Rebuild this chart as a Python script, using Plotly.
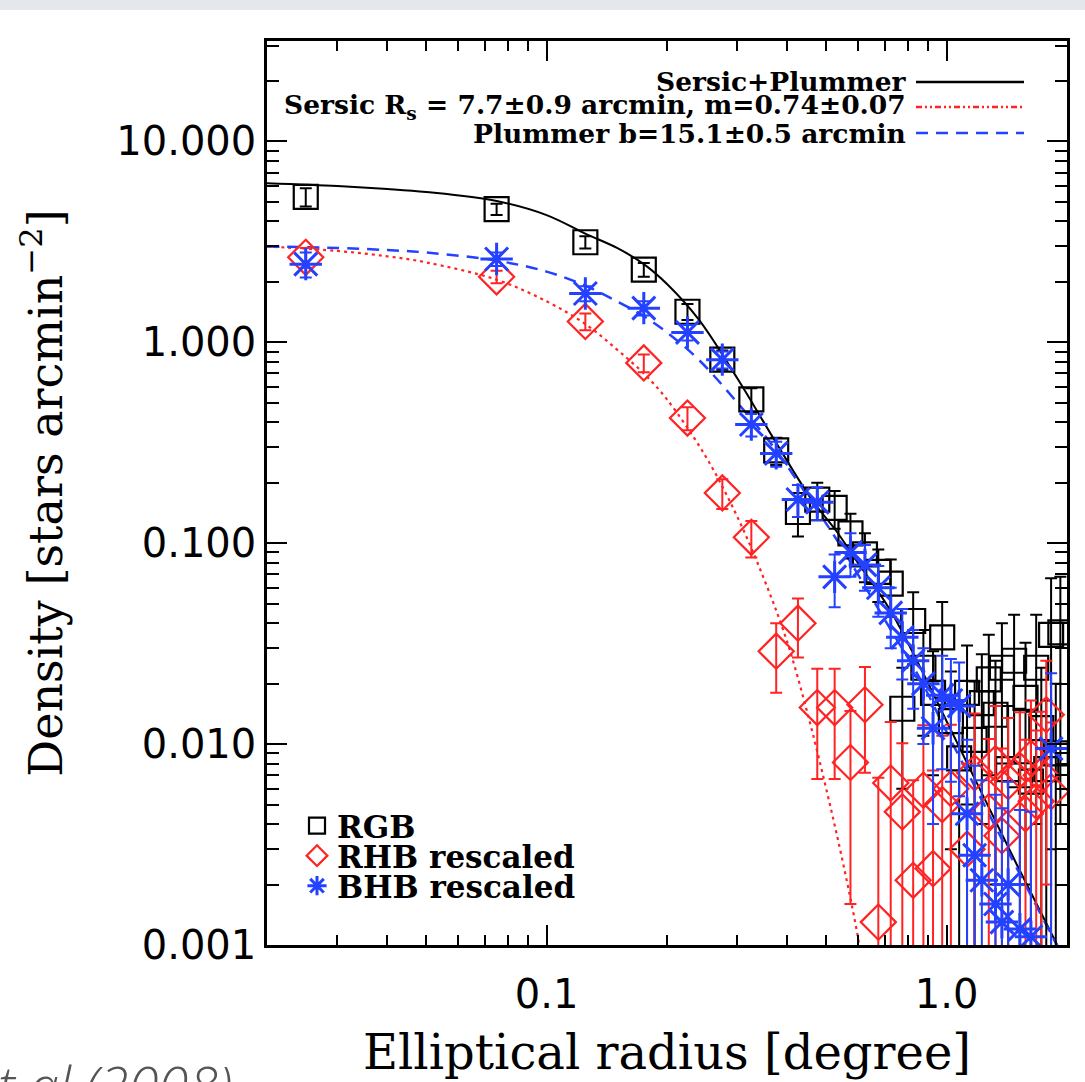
import plotly.graph_objects as go

# ---------------- data ----------------
radius = [0.025, 0.075, 0.125, 0.175, 0.225, 0.275, 0.325, 0.375, 0.425, 0.475,
          0.525, 0.575, 0.625, 0.675, 0.725, 0.775, 0.825, 0.875, 0.925, 0.975,
          1.025, 1.075, 1.125, 1.175, 1.225, 1.275, 1.325, 1.375, 1.425, 1.475,
          1.525, 1.575, 1.625, 1.675, 1.725, 1.775, 1.825, 1.875, 1.925]

rgb_density = [5.3, 4.6, 3.15, 2.3, 1.42, 0.82, 0.52, 0.29, 0.143, 0.165,
               0.150, 0.112, 0.088, 0.072, 0.063, 0.015, 0.041, 0.024, 0.018, 0.034,
               0.013, 0.0085, 0.018, 0.0105, 0.016, 0.021, 0.014, 0.024, 0.0075, 0.026,
               0.007, 0.017, 0.0065, 0.024, 0.012, 0.0075, 0.035, 0.009, 0.036]
rgb_err = [0.55, 0.3, 0.22, 0.18, 0.13, 0.09, 0.07, 0.045, 0.035, 0.035,
           0.032, 0.028, 0.024, 0.021, 0.02, 0.009, 0.016, 0.013, 0.011, 0.017,
           0.01, 0.008, 0.013, 0.01, 0.012, 0.014, 0.012, 0.016, 0.008, 0.018,
           0.008, 0.015, 0.008, 0.02, 0.012, 0.009, 0.032, 0.011, 0.032]

rhb_density = [2.65, 2.12, 1.27, 0.79, 0.42, 0.178, 0.107, 0.029, 0.040, 0.0152,
               0.0152, 0.0081, 0.0157, 0.0013, 0.0064, 0.0046, 0.0021, 0.0059, 0.0024, 0.0050,
               0.0060, None, 0.0030, 0.0072, None, 0.0046, 0.0080, 0.0035, 0.0065, None,
               0.0074, 0.0045, 0.0085, 0.0052, 0.0070, 0.0140, 0.0058, None, None]
rhb_err = [0.3, 0.15, 0.12, 0.08, 0.055, 0.03, 0.022, 0.011, 0.013, 0.0085,
           0.0085, 0.0065, 0.0085, 0.0055, 0.0065, 0.0055, 0.0045, 0.0065, 0.005, 0.006,
           0.0065, None, 0.005, 0.007, None, 0.006, 0.0075, 0.006, 0.007, None,
           0.007, 0.006, 0.008, 0.0065, 0.0075, 0.012, 0.007, None, None]

bhb_density = [2.45, 2.6, 1.75, 1.48, 1.12, 0.82, 0.39, 0.28, 0.165, 0.160,
               0.068, 0.090, 0.078, 0.060, 0.045, 0.034, 0.026, 0.020, 0.012, 0.0175,
               0.0165, 0.0155, 0.0045, 0.0028, 0.0021, None, 0.0016, 0.0013, 0.0020, None,
               0.0012, None, 0.0011, None, None, None, 0.0095, None, None]
bhb_err = [0.35, 0.2, 0.15, 0.12, 0.1, 0.08, 0.05, 0.04, 0.03, 0.03,
           0.02, 0.022, 0.02, 0.017, 0.015, 0.013, 0.011, 0.010, 0.008, 0.010,
           0.010, 0.010, 0.006, 0.005, 0.0045, None, 0.004, 0.0035, 0.0045, None,
           0.0035, None, 0.0035, None, None, None, 0.013, None, None]

# fitted profiles
total_r = [0.02, 0.03, 0.04, 0.05, 0.075, 0.1, 0.126, 0.15, 0.175, 0.2, 0.24, 0.3,
           0.37, 0.46, 0.53, 0.6, 0.72, 0.86, 1.0, 1.2, 1.5, 2.0]
total_density = [6.2, 6.0, 5.8, 5.6, 5.05, 4.3, 3.45, 2.95, 2.45, 1.95, 1.3, 0.66,
                 0.33, 0.165, 0.115, 0.08, 0.047, 0.024, 0.013, 0.0062, 0.0025, 0.0008]
plummer_density = [3.0, 2.95, 2.88, 2.8, 2.55, 2.25, 1.9, 1.6, 1.35, 1.12, 0.82, 0.5,
                   0.3, 0.16, 0.105, 0.07, 0.038, 0.021, 0.0115, 0.0057, 0.0024, 0.0008]
sersic_r = [0.02, 0.03, 0.04, 0.05, 0.075, 0.1, 0.126, 0.15, 0.175, 0.2, 0.25, 0.3,
            0.35, 0.4, 0.45, 0.5, 0.55, 0.6, 0.65]
sersic_density = [3.0, 2.85, 2.68, 2.5, 2.05, 1.6, 1.22, 0.92, 0.7, 0.52, 0.27, 0.135,
                  0.066, 0.032, 0.014, 0.006, 0.0026, 0.0011, 0.0004]

y_tickvals = [0.001, 0.01, 0.1, 1, 10]
y_ticktext = ["0.001", "0.010", "0.100", "1.000", "10.000"]
x_tickvals = [0.1, 1.0]
x_ticktext = ["0.1", "1.0"]

# ---------------- styling ----------------
RED = "rgb(255,35,35)"
BLUE = "rgb(35,65,255)"
SERIF = "DejaVu Serif"
SANS = "DejaVu Sans"


def px_x(px):
    return (px - 267) / 800.0


def px_y(py):
    return (945 - py) / 904.0


fig = go.Figure()

fig.add_trace(go.Scatter(x=total_r, y=total_density, mode="lines", line_shape="spline",
                         line=dict(color="black", width=2), showlegend=False, hoverinfo="skip"))
fig.add_trace(go.Scatter(x=sersic_r, y=sersic_density, mode="lines", line_shape="spline",
                         line=dict(color=RED, width=2.2, dash="3px,4px"), showlegend=False, hoverinfo="skip"))
fig.add_trace(go.Scatter(x=total_r, y=plummer_density, mode="lines", line_shape="spline",
                         line=dict(color=BLUE, width=2.5, dash="12px,8px"), showlegend=False, hoverinfo="skip"))

fig.add_trace(go.Scatter(x=radius, y=rgb_density, mode="markers", name="RGB", legend="legend",
                         marker=dict(symbol="square-open", size=24, color="black", line=dict(width=2.2)),
                         error_y=dict(type="data", array=rgb_err, color="black", thickness=2, width=6)))
fig.add_trace(go.Scatter(x=radius, y=rhb_density, mode="markers", name="RHB rescaled", legend="legend2",
                         marker=dict(symbol="diamond-open", size=27, color=RED, line=dict(width=2.2)),
                         error_y=dict(type="data", array=rhb_err, color=RED, thickness=2, width=6)))
fig.add_trace(go.Scatter(x=radius, y=bhb_density, mode="markers", name="BHB rescaled", legend="legend3",
                         marker=dict(symbol="asterisk-open", size=27, color=BLUE, line=dict(width=3, color=BLUE)),
                         error_y=dict(type="data", array=bhb_err, color=BLUE, thickness=2, width=6)))


def minor_vals(decades):
    return [m * 10 ** d for d in decades for m in range(2, 10)]


axis_common = dict(type="log", showline=True, linewidth=2.5, linecolor="black", mirror="allticks",
                   ticks="inside", ticklen=20, tickwidth=2, tickcolor="black", showgrid=False,
                   zeroline=False, tickmode="array")

fig.update_xaxes(**axis_common, range=[-1.69897, 0.30103], tickvals=x_tickvals, ticktext=x_ticktext,
                 tickfont=dict(family=SANS, size=40, color="black"), ticklabelstandoff=12,
                 minor=dict(ticks="inside", ticklen=10, tickwidth=2, tickcolor="black",
                            tickvals=[v for v in minor_vals([-2, -1, 0]) if 0.02 < v < 2.0]),
                 title=dict(text="Elliptical radius [degree]", font=dict(family=SERIF, size=48, color="black"),
                            standoff=20))
fig.update_yaxes(**axis_common, range=[-3, 1.5], tickvals=y_tickvals, ticktext=y_ticktext,
                 tickfont=dict(family=SANS, size=40, color="black"),
                 minor=dict(ticks="inside", ticklen=12, tickwidth=2, tickcolor="black",
                            tickvals=[v for v in minor_vals([-3, -2, -1, 0, 1]) if v < 31]),
                 title=dict(text="Density [stars arcmin<sup>−2</sup>]",
                            font=dict(family=SERIF, size=46, color="black"), standoff=40))

# top-right legend (text left of the line sample)
leg_rows = [
    ("Sersic+Plummer", 82, dict(color="black", width=2.5)),
    ("Sersic R<sub>s</sub> = 7.7±0.9 arcmin, m=0.74±0.07", 107,
     dict(color=RED, width=2.5, dash="6px,3px,2px,3px,2px,3px")),
    ("Plummer b=15.1±0.5 arcmin", 133, dict(color=BLUE, width=2.5, dash="12px,8px")),
]
for text, py, ln in leg_rows:
    fig.add_annotation(x=px_x(908), y=px_y(py), xref="paper", yref="paper", text=text,
                       showarrow=False, xanchor="right", yanchor="middle",
                       font=dict(family=SERIF, size=26.5, color="black", weight="bold"))
    fig.add_shape(type="line", xref="paper", yref="paper", x0=px_x(916), x1=px_x(1024),
                  y0=px_y(py), y1=px_y(py), line=ln)

# slide decorations: grey strip at the top and cut-off citation bottom-left
fig.add_shape(type="rect", xref="paper", yref="paper", x0=px_x(-5), x1=px_x(1090),
              y0=px_y(10), y1=px_y(-5), fillcolor="#e4e7eb", line=dict(width=0), layer="above")
fig.add_annotation(x=px_x(234), y=px_y(1084), xref="paper", yref="paper", text="et al (2008)",
                   showarrow=False, xanchor="right", yanchor="middle",
                   font=dict(family="Open Sans", size=54, color="#555555", style="italic", weight=300))

legend_style = dict(xanchor="left", yanchor="middle", bgcolor="rgba(0,0,0,0)", itemsizing="trace",
                    font=dict(family=SERIF, size=31, color="black", weight="bold"))
fig.update_layout(
    width=1085, height=1082,
    margin=dict(l=267, r=18, t=41, b=137, autoexpand=False),
    plot_bgcolor="white", paper_bgcolor="white",
    showlegend=True,
    legend=dict(x=px_x(297), y=px_y(826), **legend_style),
    legend2=dict(x=px_x(297), y=px_y(856), **legend_style),
    legend3=dict(x=px_x(297), y=px_y(886), **legend_style),
)

fig.write_html("out.html", config={"displayModeBar": False},
               post_script="document.body.style.margin='0px';")
